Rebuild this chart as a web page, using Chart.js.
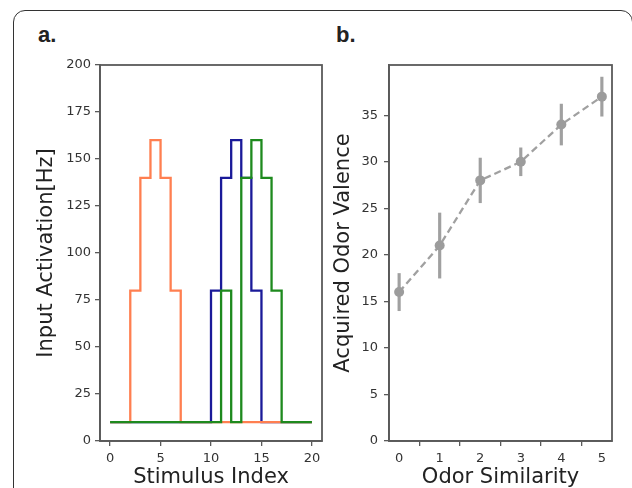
<!DOCTYPE html>
<html>
<head>
<meta charset="utf-8">
<script src="https://cdn.jsdelivr.net/npm/chart.js@4.4.1/dist/chart.umd.min.js"></script>
<style>
  body { margin: 0; background: #fff; width: 632px; height: 488px; overflow: hidden; position: relative; }
  .frame { position: absolute; left: 13px; top: 10px; width: 620px; height: 520px; border: 1.5px solid #333; border-radius: 12px; box-sizing: border-box; }
  .panel-label { position: absolute; font-family: 'Liberation Sans', Arial, sans-serif; font-weight: bold; font-size: 22px; color: #222; }
  canvas { position: absolute; top: 0; }
</style>
</head>
<body>
<div class="frame"></div>
<div class="panel-label" style="left:38px; top:22px;">a.</div>
<div class="panel-label" style="left:336px; top:22px;">b.</div>
<canvas id="chartA" width="330" height="488" style="left:0"></canvas>
<canvas id="chartB" width="302" height="488" style="left:330px"></canvas>
<script>
// Panel a: input activation per stimulus index (value held until next index)
const stimIndex = [0, 1, 2, 3, 4, 5, 6, 7, 8, 9, 10, 11, 12, 13, 14, 15, 16, 17, 18, 19, 20];
const orangeRate = [10, 10, 80, 140, 160, 140, 80, 10, 10, 10, 10, 10, 10, 10, 10, 10, 10, 10, 10, 10, 10];
const blueRate = [10, 10, 10, 10, 10, 10, 10, 10, 10, 10, 80, 140, 160, 140, 80, 10, 10, 10, 10, 10, 10];
const greenRate = [10, 10, 10, 10, 10, 10, 10, 10, 10, 10, 10, 80, 10, 140, 160, 140, 80, 10, 10, 10, 10];
const stimTicks = [0, 5, 10, 15, 20];
const rateTicks = [0, 25, 50, 75, 100, 125, 150, 175, 200];

// Panel b: acquired odor valence vs odor similarity
const similarity = [0, 1, 2, 3, 4, 5];
const valence = [16, 21, 28, 30, 34, 37];
const valenceErr = [2, 3.5, 2.4, 1.5, 2.2, 2.1];
const similarityTicks = [0, 1, 2, 3, 4, 5];
const valenceTicks = [0, 5, 10, 15, 20, 25, 30, 35];

const tickFont = { family: 'DejaVu Sans', size: 13 };
const titleFont = { family: 'DejaVu Sans', size: 21, lineHeight: 1 };
const spine = '#5a5a5a';

// draw top and right spines too
const boxPlugin = {
    id: 'box',
    afterDraw(chart) {
        const a = chart.chartArea;
        const ctx = chart.ctx;
        ctx.save();
        ctx.strokeStyle = spine;
        ctx.lineWidth = 1.8;
        ctx.strokeRect(a.left, a.top, a.right - a.left, a.bottom - a.top);
        ctx.restore();
    }
};

const toPoints = (xs, ys) => ys.map((y, i) => ({ x: xs[i], y: y }));

function axis(opts) {
    return {
        type: 'linear',
        min: opts.min,
        max: opts.max,
        offset: false,
        afterBuildTicks: s => { s.ticks = opts.ticks.map(v => ({ value: v })); },
        afterFit: s => { if (opts.width) s.width = opts.width; if (opts.height) s.height = opts.height; },
        grid: { drawOnChartArea: false, drawTicks: true, tickLength: 5, color: spine, lineWidth: 1.3 },
        border: { color: spine, width: 1.8 },
        ticks: { font: tickFont, color: '#333', padding: opts.pad, maxRotation: 0, autoSkip: false },
        title: { display: true, text: opts.title, font: titleFont, color: '#222', padding: opts.titlePad }
    };
}

new Chart(document.getElementById('chartA'), {
    type: 'line',
    data: {
        datasets: [
            { data: toPoints(stimIndex, greenRate), borderColor: '#1e8a1e' },
            { data: toPoints(stimIndex, orangeRate), borderColor: '#ff7f50' },
            { data: toPoints(stimIndex, blueRate), borderColor: '#1a1a99' }
        ].map(d => Object.assign(d, { stepped: true, borderWidth: 2.3, pointRadius: 0, fill: false }))
    },
    options: {
        responsive: false,
        animation: false,
        layout: { padding: { left: 0, top: 65, right: 8, bottom: 0 } },
        plugins: { legend: { display: false }, tooltip: { enabled: false } },
        scales: {
            x: axis({ min: -1, max: 21, ticks: stimTicks, height: 47, pad: 5, title: 'Stimulus Index', titlePad: { top: 0, bottom: 0 } }),
            y: axis({ min: 0, max: 200, ticks: rateTicks, width: 100, pad: 4, title: 'Input Activation[Hz]', titlePad: { top: 36, bottom: 0 } })
        }
    },
    plugins: [boxPlugin]
});

new Chart(document.getElementById('chartB'), {
    data: {
        datasets: [
            {
                type: 'line',
                data: toPoints(similarity, valence),
                borderColor: '#a0a0a0',
                borderWidth: 2.3,
                borderDash: [7, 4],
                pointRadius: 5,
                pointBackgroundColor: '#9c9c9c',
                pointBorderColor: '#9c9c9c',
                pointBorderWidth: 0
            },
            {
                type: 'bar',
                data: similarity.map((x, i) => ({ x: x, y: [valence[i] - valenceErr[i], valence[i] + valenceErr[i]] })),
                backgroundColor: '#a0a0a0',
                barThickness: 2.5,
                borderWidth: 0
            }
        ]
    },
    options: {
        responsive: false,
        animation: false,
        layout: { padding: { left: 0, top: 65, right: 20, bottom: 0 } },
        plugins: { legend: { display: false }, tooltip: { enabled: false } },
        scales: {
            x: axis({ min: -0.25, max: 5.25, ticks: similarityTicks, height: 47, pad: 5, title: 'Odor Similarity', titlePad: { top: 0, bottom: 0 } }),
            y: axis({ min: 0, max: 40.4, ticks: valenceTicks, width: 59, pad: 6, title: 'Acquired Odor Valence', titlePad: { top: 3.5, bottom: 0 } })
        }
    },
    plugins: [boxPlugin]
});
</script>
</body>
</html>
